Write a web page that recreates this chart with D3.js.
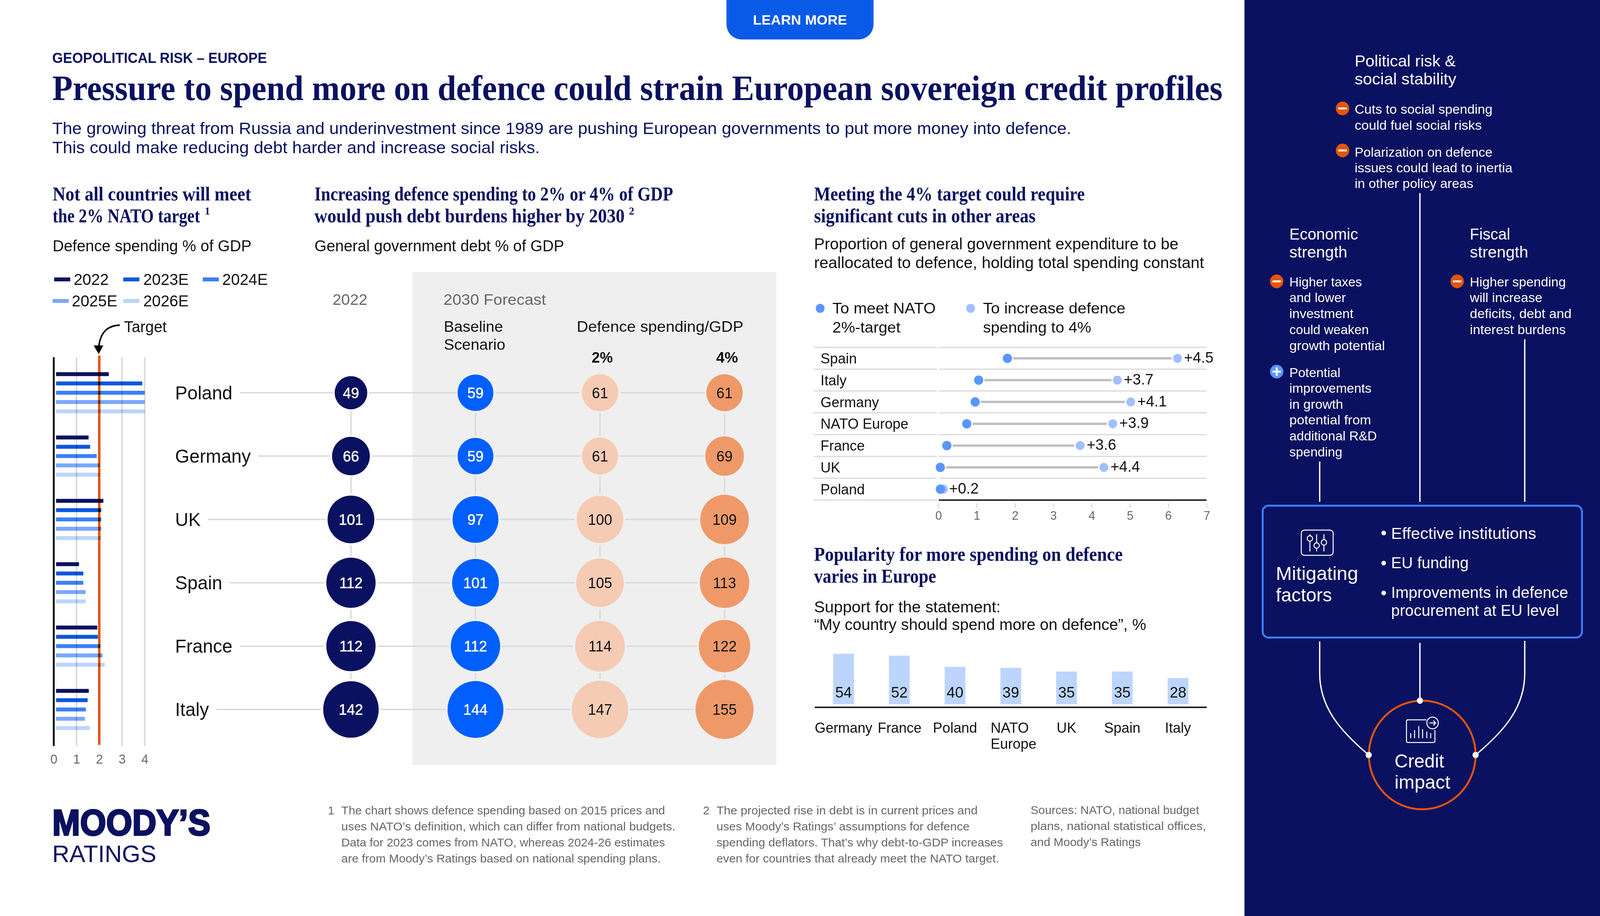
<!DOCTYPE html>
<html><head><meta charset="utf-8">
<script src="https://cdn.jsdelivr.net/npm/d3@7"></script>
<style>html,body{margin:0;padding:0;background:#fff;overflow:hidden;width:100%;height:100%}#c{width:100vw;height:100vh}svg{display:block}</style>
</head><body><div id="c"></div>
<script>
// The sandbox viewport measured 4096x2344, not 4167x2344, so the 4167x2344 layout is
// fitted to the whole viewport (about 1.7% horizontal squeeze) rather than being cropped.
const countries=["Poland","Germany","UK","Spain","France","Italy"];
const years=["2022","2023E","2024E","2025E","2026E"];
const spend2022=[2.42,1.53,2.18,1.11,1.91,1.54];
const spend2023=[3.89,1.60,2.09,1.30,1.94,1.49];
const spend2024=[4.00,1.89,2.09,1.30,2.05,1.41];
const spend2025=[4.00,2.02,2.09,1.40,2.15,1.37];
const spend2026=[4.00,2.02,2.09,1.40,2.24,1.59];
const debt2022=[49,66,101,112,112,142];
const debtBaseline=[59,59,97,101,112,144];
const debt2pct=[61,61,100,105,114,147];
const debt4pct=[61,69,109,113,122,155];
const cutCountries=["Spain","Italy","Germany","NATO Europe","France","UK","Poland"];
const cutLow=[1.80,1.05,0.96,0.74,0.22,0.05,0.05];
const cutHigh=[6.24,4.67,5.02,4.55,3.70,4.32,0.13];
const cutLabels=["+4.5","+3.7","+4.1","+3.9","+3.6","+4.4","+0.2"];
const popCats=["Germany","France","Poland","NATO Europe","UK","Spain","Italy"];
const popValues=[54,52,40,39,35,35,28];

const navy="#0a1160",ink="#111",gray="#666",line="#d9d9d9",orange="#e4540b";
const seriesCol=["#0a1160","#0a56e0","#3b7ffa","#7aa8fb","#bcd5fd"];
const spendSeries=[spend2022,spend2023,spend2024,spend2025,spend2026];
const debtSeries=[debt2022,debtBaseline,debt2pct,debt4pct];
const debtCol=["#0a1160","#005ffd","#f5cbb4","#ef9969"];
const debtTxt=["#fff","#fff","#111","#111"];
const sans='"Liberation Sans",Arial,sans-serif',serif='"Liberation Serif",serif';

const svg=d3.select("#c").append("svg").attr("width","100%").attr("height","100%")
 .attr("viewBox","0 0 4167 2344").attr("preserveAspectRatio","none").style("font-family",sans);
function T(t,x,y,size,o={}){
 const n=(o.g||svg).append("text").attr("x",x).attr("y",y).attr("font-size",size)
  .attr("fill",o.fill||ink).text(t);
 if(o.w)n.attr("textLength",o.w).attr("lengthAdjust","spacingAndGlyphs");
 if(o.weight)n.attr("font-weight",o.weight);
 if(o.family)n.style("font-family",o.family);
 if(o.anchor)n.attr("text-anchor",o.anchor);
 if(o.stroke)n.attr("stroke",o.fill||ink).attr("stroke-width",o.stroke);
 return n;
}
const S=(t,x,y,w)=>T(t,x,y,50,{w,fill:navy,family:serif,weight:700});
// heading line with a footnote mark beside it: condensed by a transform so its box ends where it is drawn
function SF(t,x,y,w,mark,mx){
 const n=T(t,0,0,50,{fill:navy,family:serif,weight:700});
 n.attr("transform",`translate(${x},${y}) scale(${w/n.node().getComputedTextLength()},1)`);
 T(mark,mx,y-20,28,{fill:navy,family:serif,weight:700});
}

// Button
svg.append("path").attr("d","M1892 0H2275V62A39 39 0 0 1 2236 101H1931A39 39 0 0 1 1892 62Z").attr("fill","#0a5ae8");
T("LEARN MORE",1961,63,35,{fill:"#fff",weight:700,w:245});

// Heading
T("GEOPOLITICAL RISK – EUROPE",136,161,36,{fill:navy,weight:700,w:559});
T("Pressure to spend more on defence could strain European sovereign credit profiles",136,256,92,{fill:navy,weight:700,family:serif,w:3048});
T("The growing threat from Russia and underinvestment since 1989 are pushing European governments to put more money into defence.",136,343,43,{fill:navy,w:2654});
T("This could make reducing debt harder and increase social risks.",136,392,43,{fill:navy,w:1270});

// Section headings
S("Not all countries will meet",137,513,517);SF("the 2% NATO target",137,569,384,"1",533);
S("Increasing defence spending to 2% or 4% of GDP",819,513,934);SF("would push debt burdens higher by 2030",819,569,808,"2",1638);
S("Meeting the 4% target could require",2120,513,705);S("significant cuts in other areas",2120,569,577);
S("Popularity for more spending on defence",2120,1435,804);S("varies in Europe",2120,1491,318);
T("Defence spending % of GDP",137,643,41,{w:518});
T("General government debt % of GDP",819,643,41,{w:650});
T("Proportion of general government expenditure to be",2120,638,41,{w:949});
T("reallocated to defence, holding total spending constant",2120,686,41,{w:1016});
T("Support for the statement:",2120,1567,41,{w:486});
T("“My country should spend more on defence”, %",2120,1612,41,{w:865});

// ---- Chart 1: defence spending bars
const barX=d3.scaleLinear().domain([0,4]).range([140,377]);
const rowY=d3.scalePoint().domain(countries).range([1005,1815.5]);
const barOff=d3.scalePoint().domain(years).range([-47.6,47.6]);
const g1=svg.append("g");
g1.selectAll("line.grid").data([1,3,4]).join("line").attr("x1",barX).attr("x2",barX).attr("y1",914).attr("y2",1909).attr("stroke",line).attr("stroke-width",4);
g1.append("line").attr("x1",barX(2)).attr("x2",barX(2)).attr("y1",910).attr("y2",1906).attr("stroke",orange).attr("stroke-width",6.5);
g1.append("line").attr("x1",barX(0)).attr("x2",barX(0)).attr("y1",914).attr("y2",1909).attr("stroke","#000").attr("stroke-width",4.6);
years.forEach((yr,s)=>{
 g1.selectAll("rect.s"+s).data(spendSeries[s]).join("rect").attr("class","s"+s)
  .attr("x",barX(0)+6).attr("y",(d,i)=>rowY(countries[i])+barOff(yr)-5)
  .attr("width",d=>barX(d)-barX(0)-6).attr("height",10).attr("fill",seriesCol[s])
  .style("mix-blend-mode","multiply");
});
const ax1=g1.append("g").attr("transform","translate(0,1909)").call(d3.axisBottom(barX).tickValues([0,1,2,3,4]).tickFormat(d3.format("d")).tickSize(0).tickPadding(22));
ax1.select(".domain").remove();
ax1.selectAll("text").attr("font-size",33).attr("fill",gray).style("font-family",sans);
// legend
const legendRows=[[141,715,192],[321,715,373],[528,715,579],[137,770,187],[321,770,373]];
years.forEach((yr,i)=>{const r=legendRows[i];
 svg.append("line").attr("x1",r[0]).attr("x2",r[0]+42).attr("y1",r[1]).attr("y2",r[1]).attr("stroke",seriesCol[i]).attr("stroke-width",10);
 T(yr,r[2],r[1]+14,41);
});
T("Target",323,850,40);
svg.append("path").attr("d","M312 832C285 833 262 845 257 888").attr("fill","none").attr("stroke","#000").attr("stroke-width",4);
svg.append("path").attr("d","M244 884H269L257 906Z").attr("fill","#000");

// ---- Chart 2: debt bubbles
svg.append("rect").attr("x",1074).attr("y",696).attr("width",948).attr("height",1261).attr("fill","#efefef");
const colNames=["2022","Baseline","2%","4%"];
const colX=d3.scalePoint().domain(colNames).range([914,1887]);
const rad=d3.scaleSqrt().domain([0,155]).range([0,75.5]);
T("2022",866,780,39,{fill:gray,w:91});
T("2030 Forecast",1155,780,39,{fill:gray,w:267});
T("Baseline",1156,849,39,{w:154});T("Scenario",1156,895,39,{w:160});
T("Defence spending/GDP",1502,849,39,{w:434});
T("2%",1541,928,39,{weight:700,w:55});
T("4%",1865,928,39,{weight:700,w:57});
const gL=svg.append("g"),gB=svg.append("g");
countries.forEach(c=>{
 const t=T(c,456,rowY(c)+17,48);
 const end=t.node().getBBox();
 gL.append("line").attr("x1",end.x+end.width+19).attr("x2",colX("4%")).attr("y1",rowY(c)).attr("y2",rowY(c)).attr("stroke",line).attr("stroke-width",3.5);
});
colNames.forEach(k=>gL.append("line").attr("x1",colX(k)).attr("x2",colX(k)).attr("y1",rowY("Poland")).attr("y2",rowY("Italy")).attr("stroke",line).attr("stroke-width",3.5));
colNames.forEach((k,s)=>{
 const bg=s===0?"#fff":"#efefef";
 gB.selectAll("circle.h"+s).data(debtSeries[s]).join("circle").attr("class","h"+s)
  .attr("cx",colX(k)).attr("cy",(d,i)=>rowY(countries[i])).attr("r",d=>rad(d)+5).attr("fill",bg);
 gB.selectAll("circle.b"+s).data(debtSeries[s]).join("circle").attr("class","b"+s)
  .attr("cx",colX(k)).attr("cy",(d,i)=>rowY(countries[i])).attr("r",rad).attr("fill",debtCol[s]);
 gB.selectAll("text.l"+s).data(debtSeries[s]).join("text").attr("class","l"+s)
  .attr("x",colX(k)).attr("y",(d,i)=>rowY(countries[i])+14).attr("text-anchor","middle")
  .attr("font-size",38).attr("fill",debtTxt[s]).attr("stroke",s<2?"#fff":"none").attr("stroke-width",.7).text(d=>d);
});

// ---- Chart 3: dumbbell
const dX=d3.scaleLinear().domain([0,7]).range([2444,3142.4]);
const dY=d3.scalePoint().domain(cutCountries).range([917,1251.8]);
const dBottom=dY("Poland")+28;
cutCountries.forEach(c=>{const y=dY(c)-28;
 svg.append("line").attr("x1",2119).attr("x2",2440).attr("y1",y).attr("y2",y).attr("stroke",line).attr("stroke-width",3);
 svg.append("line").attr("x1",2445).attr("x2",3142).attr("y1",y).attr("y2",y).attr("stroke",line).attr("stroke-width",3);
});
svg.append("line").attr("x1",2119).attr("x2",2440).attr("y1",dBottom).attr("y2",dBottom).attr("stroke",line).attr("stroke-width",3);
svg.append("line").attr("x1",2445).attr("x2",3142).attr("y1",dBottom).attr("y2",dBottom).attr("stroke","#222").attr("stroke-width",4);
cutCountries.forEach((c,i)=>{
 T(c,2137,dY(c)+13,37);
 const a=dX(cutLow[i])+15,b=dX(cutHigh[i])-15;
 if(b>a)svg.append("line").attr("x1",a).attr("x2",b).attr("y1",dY(c)).attr("y2",dY(c)).attr("stroke","#bfbfbf").attr("stroke-width",6);
 svg.append("circle").attr("cx",dX(cutHigh[i])).attr("cy",dY(c)).attr("r",11.5).attr("fill","#a0c0ff");
 svg.append("circle").attr("cx",dX(cutLow[i])).attr("cy",dY(c)).attr("r",12).attr("fill","#5a96ff");
 T(cutLabels[i],dX(cutHigh[i])+(i===6?15:17),dY(c)+11,39);
});
const ax3=svg.append("g").attr("transform",`translate(0,${dBottom+8})`).call(d3.axisBottom(dX).ticks(7).tickSize(12).tickPadding(8).tickFormat(d3.format("d")));
ax3.select(".domain").remove();
ax3.selectAll("line").attr("stroke","#cfcfcf").attr("stroke-width",2);
ax3.selectAll("text").attr("font-size",31).attr("fill",gray).style("font-family",sans);
svg.append("circle").attr("cx",2136).attr("cy",789).attr("r",11.5).attr("fill","#5a96ff");
svg.append("circle").attr("cx",2528).attr("cy",789).attr("r",11.5).attr("fill","#a0c0ff");
T("To meet NATO",2168,802,39,{w:269});T("2%-target",2168,851,39,{w:177});
T("To increase defence",2560,802,39,{w:371});T("spending to 4%",2560,851,39,{w:282});

// ---- Chart 4: popularity
const pX=d3.scalePoint().domain(popCats).range([2197,3068]);
const pY=d3.scaleLinear().domain([0,54]).range([1802,1673]);
svg.selectAll("rect.pop").data(popValues).join("rect").attr("class","pop")
 .attr("x",(d,i)=>pX(popCats[i])-27).attr("y",pY).attr("width",54).attr("height",d=>pY(0)-pY(d)).attr("fill","#bcd5fd");
svg.selectAll("text.pop").data(popValues).join("text").attr("class","pop")
 .attr("x",(d,i)=>pX(popCats[i])).attr("y",1785).attr("text-anchor","middle").attr("font-size",39).attr("fill",ink).text(d=>d);
svg.append("line").attr("x1",2122).attr("x2",3143).attr("y1",1810).attr("y2",1810).attr("stroke","#222").attr("stroke-width",4);
popCats.forEach(c=>{
 if(c==="NATO Europe"){T("NATO",2580,1875,37);T("Europe",2580,1916,37);}
 else if(c==="Germany")T(c,2122,1875,37,{w:150});
 else if(c==="France")T(c,2286,1875,37,{w:114});
 else T(c,pX(c),1875,37,{anchor:"middle"});
});

// ---- Logo and footnotes
T("MOODY’S",136,2137,93,{fill:navy,weight:700,stroke:4,w:412});
T("RATINGS",136,2206,61,{fill:navy,w:271});
const fn=(t,x,y,w)=>T(t,x,y,30,{fill:gray,w});
fn("1",854,2084);
fn("The chart shows defence spending based on 2015 prices and",889,2084,843);
fn("uses NATO’s definition, which can differ from national budgets.",889,2125,870);
fn("Data for 2023 comes from NATO, whereas 2024-26 estimates",889,2166,843);
fn("are from Moody’s Ratings based on national spending plans.",889,2207,832);
fn("2",1831,2084);
fn("The projected rise in debt is in current prices and",1866,2084,680);
fn("uses Moody’s Ratings’ assumptions for defence",1866,2125,659);
fn("spending deflators. That’s why debt-to-GDP increases",1866,2166,746);
fn("even for countries that already meet the NATO target.",1866,2207,736);
fn("Sources: NATO, national budget",2684,2083,439);
fn("plans, national statistical offices,",2684,2124,457);
fn("and Moody’s Ratings",2684,2165,287);

// ---- Right panel
svg.append("rect").attr("x",3241).attr("y",0).attr("width",926).attr("height",2344).attr("fill",navy);
const wt=(t,x,y,w,s)=>T(t,x,y,s||33,{fill:"#fff",w});
wt("Political risk &",3528,170,263,41);wt("social stability",3528,216,265,41);
wt("Cuts to social spending",3528,291,359);wt("could fuel social risks",3528,332,331);
wt("Polarization on defence",3528,401,359);wt("issues could lead to inertia",3528,441,411);wt("in other policy areas",3528,481,309);
wt("Economic",3358,613.5,179,41);wt("strength",3358,659.5,151,41);
wt("Fiscal",3828,613.5,105,41);wt("strength",3828,659.5,152,41);
wt("Higher taxes",3358,733,189);wt("and lower",3358,773.5,147);wt("investment",3358,814,167);wt("could weaken",3358,854.6,207);wt("growth potential",3358,896,249);
wt("Potential",3358,965,133);wt("improvements",3358,1005,214);wt("in growth",3358,1046,140);wt("potential from",3358,1086.5,213);wt("additional R&D",3358,1127,228);wt("spending",3358,1167.6,138);
wt("Higher spending",3828,733,250);wt("will increase",3828,773.5,189);wt("deficits, debt and",3828,814,265);wt("interest burdens",3828,854.6,250);
function sign(cx,cy,plus){
 svg.append("circle").attr("cx",cx).attr("cy",cy).attr("r",17.5).attr("fill",plus?"#5a96ff":orange);
 svg.append("rect").attr("x",cx-11).attr("y",cy-2.5).attr("width",22).attr("height",5).attr("fill","#fff");
 if(plus)svg.append("rect").attr("x",cx-2.5).attr("y",cy-11).attr("width",5).attr("height",22).attr("fill","#fff");
}
sign(3496.5,277.5);sign(3496.5,385);sign(3325,720);sign(3325,951,true);sign(3795,720);
const vl=(x,a,b)=>svg.append("line").attr("x1",x).attr("x2",x).attr("y1",a).attr("y2",b).attr("stroke","#fff").attr("stroke-width",3.5);
vl(3698,494,1284);vl(3437,1181,1284);vl(3971,868,1284);
svg.append("rect").attr("x",3288.5).attr("y",1294).attr("width",831.5).attr("height",337.5).attr("rx",15).attr("fill","none").attr("stroke","#3b7ffa").attr("stroke-width",5);
wt("Mitigating",3323,1484.5,214,49);wt("factors",3323,1539,146,49);
[[1364],[1441],[1517.6]].forEach(d=>svg.append("circle").attr("cx",3603.6).attr("cy",d[0]).attr("r",6).attr("fill","#fff"));
wt("Effective institutions",3623,1379,378,41);wt("EU funding",3623,1453.6,202,41);
wt("Improvements in defence",3623,1530.5,461,41);wt("procurement at EU level",3623,1576,437,41);
// sliders icon
const ic=svg.append("g").attr("fill","none").attr("stroke","#fff").attr("stroke-width",2.5);
ic.append("rect").attr("x",3389).attr("y",1356.5).attr("width",83).attr("height",64.5).attr("rx",8);
[[3411.5,1378],[3429,1396],[3448,1388]].forEach(d=>{
 ic.append("line").attr("x1",d[0]).attr("x2",d[0]).attr("y1",1367).attr("y2",d[1]-7);
 ic.append("line").attr("x1",d[0]).attr("x2",d[0]).attr("y1",d[1]+7).attr("y2",1411);
 ic.append("circle").attr("cx",d[0]).attr("cy",d[1]).attr("r",7);
});
// connectors to circle
const cv=svg.append("g").attr("fill","none").attr("stroke","#fff").attr("stroke-width",3.5);
cv.append("path").attr("d","M3437 1641.6V1723C3437 1810 3490 1870 3564.6 1932");
cv.append("path").attr("d","M3971 1640V1723C3971 1810 3918 1870 3843 1932");
vl(3698,1645,1793);
svg.append("circle").attr("cx",3704).attr("cy",1932).attr("r",139).attr("fill","none").attr("stroke",orange).attr("stroke-width",5);
[[3698,1793],[3564.6,1932],[3843,1932]].forEach(d=>svg.append("circle").attr("cx",d[0]).attr("cy",d[1]).attr("r",8).attr("fill","#fff"));
const ic2=svg.append("g").attr("fill","none").attr("stroke","#fff").attr("stroke-width",2.5);
ic2.append("path").attr("d","M3737 1868V1896Q3737 1900 3733 1900H3667Q3663 1900 3663 1896V1846Q3663 1842 3667 1842H3715");
ic2.append("circle").attr("cx",3731).attr("cy",1850).attr("r",15);
ic2.append("path").attr("d","M3723 1850H3739M3733 1844L3739 1850L3733 1856");
[[3674,1876],[3684,1868],[3695,1858],[3705,1866],[3716,1872],[3726,1876]].forEach(d=>ic2.append("line").attr("x1",d[0]).attr("x2",d[0]).attr("y1",d[1]).attr("y2",1889));
wt("Credit",3632,1964,129,49);wt("impact",3632,2017.6,145,49);
</script></body></html>
